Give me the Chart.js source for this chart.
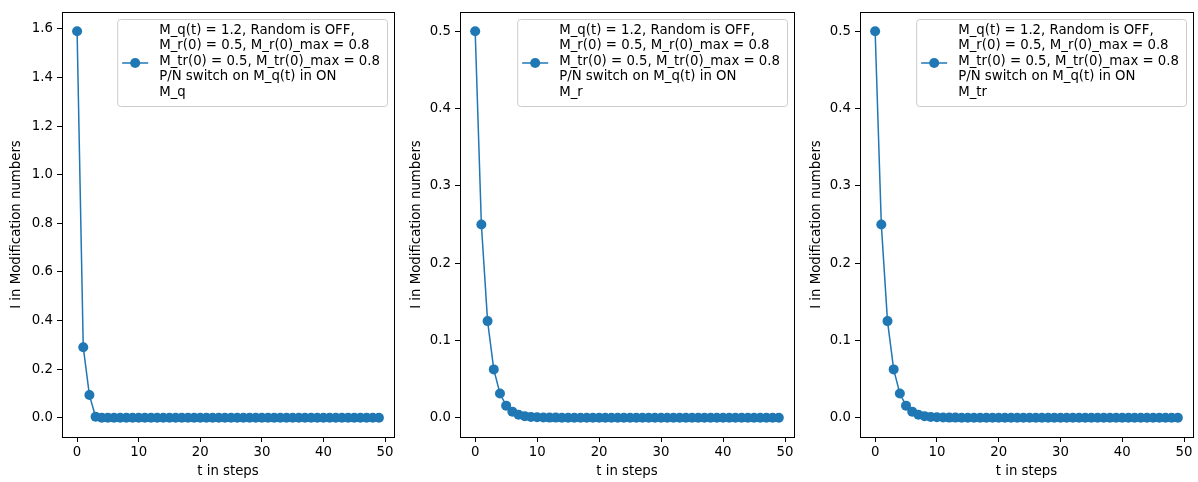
<!DOCTYPE html>
<html>
<head>
<meta charset="utf-8">
<script src="https://cdn.jsdelivr.net/npm/chart.js@4"></script>
<style>
  html, body { margin: 0; padding: 0; background: #fff; }
  #wrap { position: relative; width: 1198px; height: 482px; }
  .panel { position: absolute; top: 0; height: 482px; }
</style>
</head>
<body>
<div id="wrap">
  <div class="panel" style="left:0;width:400px"><canvas id="c1"></canvas></div>
  <div class="panel" style="left:400px;width:400px"><canvas id="c2"></canvas></div>
  <div class="panel" style="left:800px;width:398px"><canvas id="c3"></canvas></div>
</div>
<script>
// time steps
const steps = [0,1,2,3,4,5,6,7,8,9,
  10,11,12,13,14,15,16,17,18,19,
  20,21,22,23,24,25,26,27,28,29,
  30,31,32,33,34,35,36,37,38,39,
  40,41,42,43,44,45,46,47,48,49];

const mQ = [1.59, 0.29, 0.093, 0.004, 0.0002,
  0,0,0,0,0,
  0,0,0,0,0,0,0,0,0,0,
  0,0,0,0,0,0,0,0,0,0,
  0,0,0,0,0,0,0,0,0,0,
  0,0,0,0,0,0,0,0,0,0];

const mR = [0.5, 0.25, 0.125, 0.0625, 0.0313, 0.0156, 0.0078, 0.0039, 0.002, 0.001,
  0.0005, 0.0003, 0.0001, 0.0001, 0,0,0,0,0,0,
  0,0,0,0,0,0,0,0,0,0,
  0,0,0,0,0,0,0,0,0,0,
  0,0,0,0,0,0,0,0,0,0];

const mTr = [0.5, 0.25, 0.125, 0.0625, 0.0313, 0.0156, 0.0078, 0.0039, 0.002, 0.001,
  0.0005, 0.0003, 0.0001, 0.0001, 0,0,0,0,0,0,
  0,0,0,0,0,0,0,0,0,0,
  0,0,0,0,0,0,0,0,0,0,
  0,0,0,0,0,0,0,0,0,0];

const xTicks = [0, 10, 20, 30, 40, 50];
const yTicksQ = [0.0, 0.2, 0.4, 0.6, 0.8, 1.0, 1.2, 1.4, 1.6];
const yTicksR = [0.0, 0.1, 0.2, 0.3, 0.4, 0.5];

const legendHead = [
  'M_q(t) = 1.2, Random is OFF,',
  'M_r(0) = 0.5, M_r(0)_max = 0.8',
  'M_tr(0) = 0.5, M_tr(0)_max = 0.8',
  'P/N switch on M_q(t) in ON'
];

const blue = '#1f77b4';
const fontPx = 13.3;
Chart.defaults.font.family = 'DejaVu Sans';
Chart.defaults.font.size = fontPx;
Chart.defaults.color = '#000';

// box round the plot area and the legend
const frameAndLegend = {
  id: 'frameAndLegend',
  afterDraw(chart, args, opts) {
    const { ctx, chartArea: a } = chart;
    ctx.save();
    ctx.strokeStyle = '#000';
    ctx.lineWidth = 1;
    ctx.strokeRect(Math.round(a.left) + 0.5, Math.round(a.top) + 0.5,
      Math.round(a.right - a.left), Math.round(a.bottom - a.top));

    const lines = legendHead.concat([opts.name]);
    ctx.font = fontPx + 'px "DejaVu Sans"';
    let tw = 0;
    lines.forEach(l => { tw = Math.max(tw, ctx.measureText(l).width); });
    const bw = tw + 49, bh = 87;
    const bx = a.right - 7 - bw, by = a.top + 7;
    ctx.beginPath();
    ctx.roundRect(bx + 0.5, by + 0.5, bw, bh, 3);
    ctx.fillStyle = 'rgba(255,255,255,0.8)';
    ctx.fill();
    ctx.strokeStyle = '#cccccc';
    ctx.stroke();

    const my = by + 44;
    ctx.strokeStyle = blue;
    ctx.lineWidth = 1.5;
    ctx.beginPath();
    ctx.moveTo(bx + 5, my);
    ctx.lineTo(bx + 31, my);
    ctx.stroke();
    ctx.fillStyle = blue;
    ctx.beginPath();
    ctx.arc(bx + 18, my, 5, 0, Math.PI * 2);
    ctx.fill();

    ctx.fillStyle = '#000';
    ctx.textBaseline = 'middle';
    ctx.textAlign = 'left';
    lines.forEach((l, i) => ctx.fillText(l, bx + 42, by + 11.5 + i * 15.5));
    ctx.restore();
  }
};

function makeChart(id, values, yMin, yMax, yTicks, name, yAxisW, padRight) {
  const ctx = document.getElementById(id).getContext('2d');
  return new Chart(ctx, {
    type: 'line',
    data: {
      datasets: [{
        label: name,
        data: steps.map((s, i) => ({ x: s, y: values[i] })),
        borderColor: blue,
        backgroundColor: blue,
        borderWidth: 1.5,
        pointRadius: 5,
        pointBorderWidth: 0,
        pointBackgroundColor: blue,
        tension: 0
      }]
    },
    options: {
      responsive: true,
      maintainAspectRatio: false,
      animation: false,
      layout: { padding: { top: 12, right: padRight, bottom: 0, left: 0 } },
      plugins: {
        legend: { display: false },
        tooltip: { enabled: false },
        frameAndLegend: { name: name }
      },
      scales: {
        x: {
          type: 'linear',
          min: -2.45,
          max: 51.45,
          afterBuildTicks: s => { s.ticks = xTicks.map(v => ({ value: v })); },
          afterFit: s => { s.height = 45; },
          border: { display: false },
          grid: { drawOnChartArea: false, drawTicks: true, tickLength: 5, tickColor: '#000' },
          ticks: { padding: 3, maxRotation: 0, callback: v => String(v) },
          title: { display: true, text: 't in steps', padding: { top: 0, bottom: 2 } }
        },
        y: {
          type: 'linear',
          min: yMin,
          max: yMax,
          afterBuildTicks: s => { s.ticks = yTicks.map(v => ({ value: v })); },
          afterFit: s => { s.width = yAxisW; },
          border: { display: false },
          grid: { drawOnChartArea: false, drawTicks: true, tickLength: 5, tickColor: '#000' },
          ticks: { padding: 4, callback: v => v.toFixed(1) },
          title: { display: true, text: 'I in Modification numbers', padding: { top: 9, bottom: 0 } }
        }
      }
    },
    plugins: [frameAndLegend]
  });
}

makeChart('c1', mQ, -0.0795, 1.6695, yTicksQ, 'M_q', 62, 6);
makeChart('c2', mR, -0.025, 0.525, yTicksR, 'M_r', 60, 6);
makeChart('c3', mTr, -0.025, 0.525, yTicksR, 'M_tr', 60, 4);
</script>
</body>
</html>
